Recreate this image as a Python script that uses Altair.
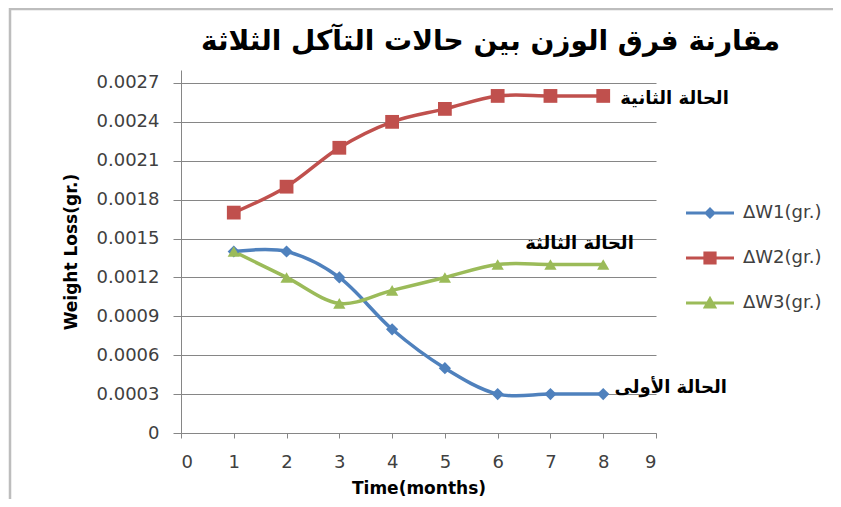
import altair as alt
import pandas as pd

months = [1, 2, 3, 4, 5, 6, 7, 8]
w1 = [0.0014, 0.0014, 0.0012, 0.0008, 0.0005, 0.0003, 0.0003, 0.0003]
w2 = [0.0017, 0.0019, 0.0022, 0.0024, 0.0025, 0.0026, 0.0026, 0.0026]
w3 = [0.0014, 0.0012, 0.0010, 0.0011, 0.0012, 0.0013, 0.0013, 0.0013]
series_names = ["ΔW1(gr.)", "ΔW2(gr.)", "ΔW3(gr.)"]
colors = ["#4F81BD", "#C0504D", "#9BBB59"]
marker_shapes = ["diamond", "square", "triangle-up"]

note_texts = ["الحالة الأولى", "الحالة الثانية", "الحالة الثالثة"]
note_x = [9.28, 9.35, 7.55]
note_y = [0.00035, 0.00258, 0.00146]

title_text = "مقارنة فرق الوزن بين حالات التآكل الثلاثة"
y_ticks = [round(i * 0.0003, 4) for i in range(10)]
x_ticks = list(range(10))

rows = []
for name, vals in zip(series_names, [w1, w2, w3]):
    for m, v in zip(months, vals):
        rows.append({"month": m, "loss": v, "series": name})
df = pd.DataFrame(rows)
notes = pd.DataFrame({"x": note_x, "y": note_y, "text": note_texts})

legend_paths = [
    "M-4,-0.27L4,-0.27L4,0.27L-4,0.27Z M0,-1L1,0L0,1L-1,0Z",
    "M-4,-0.27L4,-0.27L4,0.27L-4,0.27Z M-1.1,-1.1L1.1,-1.1L1.1,1.1L-1.1,1.1Z",
    "M-4,-0.27L4,-0.27L4,0.27L-4,0.27Z M0,-1.2L1.2,0.9L-1.2,0.9Z",
]

xscale = alt.Scale(domain=[0, 9], nice=False)
yscale = alt.Scale(domain=[0, 0.0028], nice=False)
cscale = alt.Scale(domain=series_names, range=colors)

x_enc = alt.X("month:Q", scale=xscale,
              axis=alt.Axis(values=x_ticks, title="Time(months)", grid=False,
                            tickSize=5, labelPadding=15, titlePadding=9))
y_enc = alt.Y("loss:Q", scale=yscale,
              axis=alt.Axis(values=y_ticks, title="Weight Loss(gr.)", grid=True,
                            tickSize=8, labelPadding=14, titlePadding=16,
                            labelExpr="datum.value == 0 ? '0' : format(datum.value, '.4f')"))

base = alt.Chart(df)

# chart-area frame (decoration)
frame = alt.Chart(pd.DataFrame({"k": [0]})).mark_rect(
    fill="transparent", stroke="#bdbdbd", strokeWidth=2.5
).encode(x=alt.value(-171), x2=alt.value(680), y=alt.value(-61), y2=alt.value(460))

layers = [frame]
for i, (name, shp, col) in enumerate(zip(series_names, marker_shapes, colors)):
    sub = base.transform_filter(alt.datum.series == name)
    layers.append(
        sub.mark_line(strokeWidth=3.5, interpolate="cardinal", color=col).encode(
            x=x_enc if i == 0 else alt.X("month:Q", scale=xscale),
            y=y_enc if i == 0 else alt.Y("loss:Q", scale=yscale),
        )
    )
for name, shp, col in zip(series_names, marker_shapes, colors):
    sz = 150 if shp != "square" else 190
    layers.append(
        base.transform_filter(alt.datum.series == name)
        .mark_point(filled=True, opacity=1, size=sz, shape=shp, color=col)
        .encode(x="month:Q", y="loss:Q")
    )

# legend-only layer: no marks drawn, legend built from explicit scale domains
legend_layer = base.transform_filter("false").mark_point(filled=True, opacity=1, size=144).encode(
    x="month:Q", y="loss:Q",
    color=alt.Color("series:N", scale=cscale, legend=alt.Legend(
        title=None, orient="none", legendX=520, legendY=134,
        symbolSize=144, rowPadding=27, labelOffset=24,
        labelFont="DejaVu Sans", labelFontSize=18, labelColor="#404040", symbolStrokeWidth=0)),
    shape=alt.Shape("series:N", scale=alt.Scale(domain=series_names, range=legend_paths)),
)
layers.append(legend_layer)

note_layer = alt.Chart(notes).mark_text(
    font="DejaVu Sans", fontSize=18, fontWeight="bold", color="black", align="center", baseline="middle"
).encode(x=alt.X("x:Q", scale=xscale), y=alt.Y("y:Q", scale=yscale), text="text:N")
layers.append(note_layer)

chart = alt.layer(*layers).properties(
    width=475, height=363,
    autosize=alt.AutoSizeParams(type="none"),
    padding={"left": 173, "top": 62, "right": 177, "bottom": 66},
    background="white",
    title=alt.TitleParams(title_text, font="DejaVu Sans", fontSize=28, fontWeight="bold",
                          color="black", anchor="middle", dx=72, offset=12, dy=60),
).configure_view(stroke=None).configure_axis(
    domainColor="#868686", tickColor="#868686", gridColor="#868686",
    labelFont="DejaVu Sans", labelFontSize=18, labelColor="#404040",
    titleFont="DejaVu Sans", titleFontSize=17, titleFontWeight="bold", titleColor="black",
)

chart.save("out.html", embed_options={"renderer": "svg", "actions": False})
